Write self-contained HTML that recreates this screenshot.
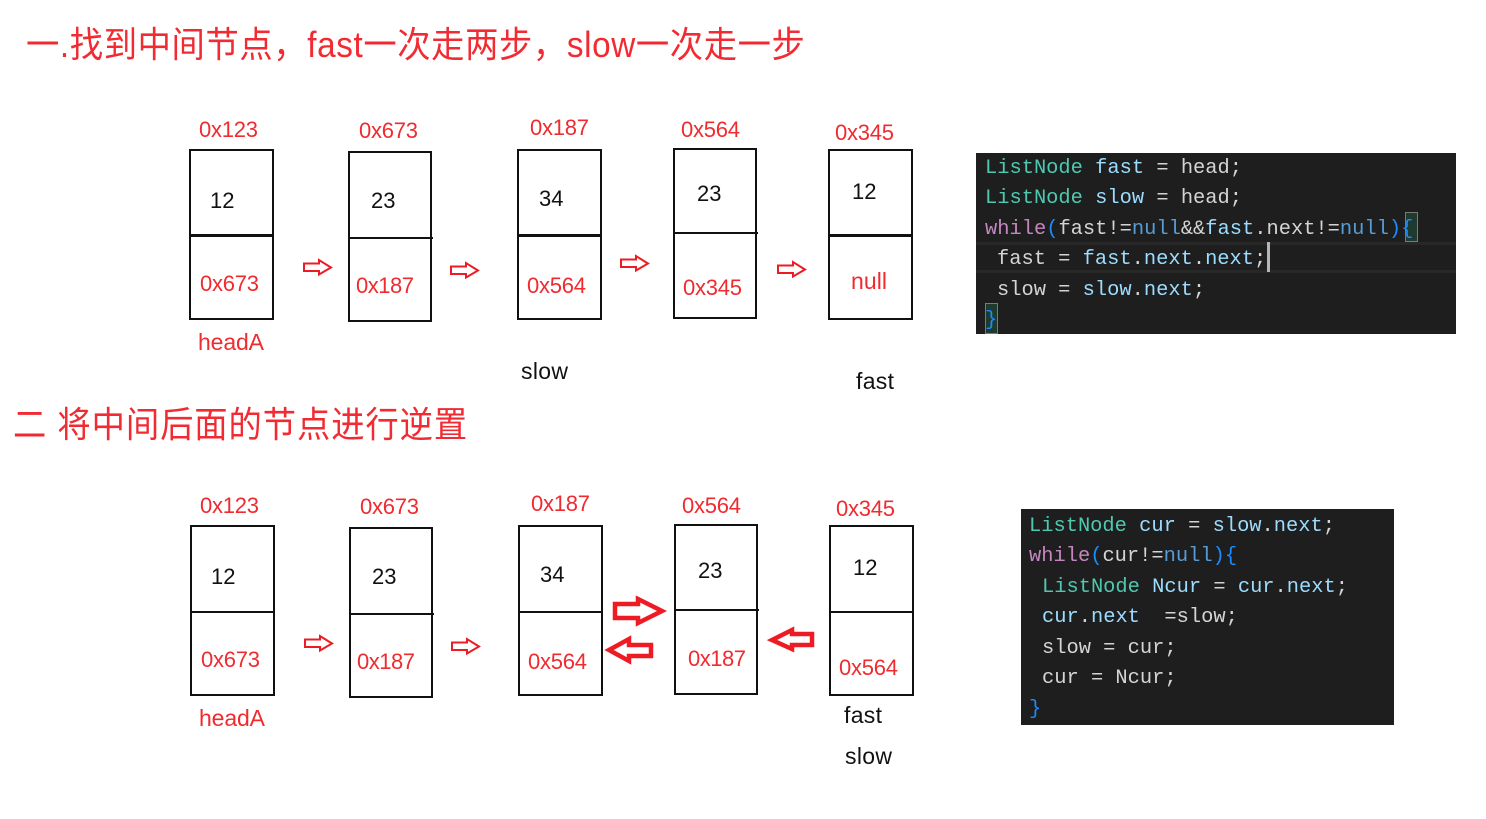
<!DOCTYPE html>
<html>
<head>
<meta charset="utf-8">
<style>
html,body{margin:0;padding:0;background:#fff;width:1486px;height:819px;overflow:hidden}
svg{display:block}
text{font-family:"Liberation Sans","Noto Sans CJK SC",sans-serif;font-size:22px}
.r{fill:#f02b30}
.k{fill:#111}
.w23{font-size:23px}
.t{font-size:36px;fill:#f22b33}
.c text,text.c{font-family:"Liberation Mono",monospace;font-size:20.4px;fill:#d4d4d4;white-space:pre;stroke:currentColor;stroke-width:0}
.g{fill:#4ec9b0}.v{fill:#9cdcfe}.w{fill:#c586c0}.n{fill:#569cd6}.b{fill:#1a8cff}
.box{fill:none;stroke:#111;stroke-width:2}
.div{stroke:#111;stroke-width:2}
.sa{fill:#fff;stroke:#ed1c24;stroke-width:2}
.ba{fill:#fff;stroke:#ed1c24;stroke-width:4.500}
</style>
</head>
<body>
<svg width="1486" height="819" viewBox="0 0 1486 819" xmlns="http://www.w3.org/2000/svg">
<rect width="1486" height="819" fill="#fff"/>

<text class="t" transform="translate(26,57) scale(.925,1)" x="0" y="0" textLength="842">一.找到中间节点，fast一次走两步，slow一次走一步</text>
<text class="t" transform="translate(13,437) scale(.925,1)" x="0" y="0" textLength="491">二 将中间后面的节点进行逆置</text>

<!-- Row 1 boxes -->
<rect class="box" x="190" y="150" width="83" height="169"/><line class="div" style="stroke-width:3" x1="190" y1="235.500" x2="274" y2="235.500"/>
<rect class="box" x="349" y="152" width="82" height="169"/><line class="div" x1="349" y1="238" x2="433" y2="238"/>
<rect class="box" x="518" y="150" width="83" height="169"/><line class="div" style="stroke-width:3" x1="518" y1="235.500" x2="602" y2="235.500"/>
<rect class="box" x="674" y="149" width="82" height="169"/><line class="div" x1="674" y1="233" x2="758" y2="233"/>
<rect class="box" x="829" y="150" width="83" height="169"/><line class="div" style="stroke-width:3" x1="829" y1="235.500" x2="913" y2="235.500"/>

<!-- Row 1 text -->
<text class="r" x="199" y="137" textLength="59">0x123</text>
<text class="r" x="359" y="138" textLength="59">0x673</text>
<text class="r" x="530" y="135" textLength="59">0x187</text>
<text class="r" x="681" y="137" textLength="59">0x564</text>
<text class="r" x="835" y="140" textLength="59">0x345</text>
<text class="k" x="210" y="208">12</text>
<text class="k" x="371" y="208">23</text>
<text class="k" x="539" y="206">34</text>
<text class="k" x="697" y="201">23</text>
<text class="k" x="852" y="199">12</text>
<text class="r" x="200" y="291" textLength="59">0x673</text>
<text class="r" x="356" y="293" textLength="58">0x187</text>
<text class="r" x="527" y="293" textLength="59">0x564</text>
<text class="r" x="683" y="295" textLength="59">0x345</text>
<text class="r w23" x="851" y="289" textLength="36">null</text>
<text class="r w23" x="198" y="350" textLength="66">headA</text>
<text class="k w23" x="521" y="379" textLength="47">slow</text>
<text class="k w23" x="856" y="389" textLength="38">fast</text>

<!-- Row 1 arrows -->
<polygon class="sa" points="304,263.500 319,263.500 319,260 331,267.500 319,274.500 319,271 304,271"/>
<polygon class="sa" points="451,266.500 466,266.500 466,263 478,270.500 466,277.500 466,274 451,274"/>
<polygon class="sa" points="621,259.500 636,259.500 636,256 648,263.500 636,270.500 636,267 621,267"/>
<polygon class="sa" points="778,265.500 793,265.500 793,262 805,269.500 793,276.500 793,273 778,273"/>

<!-- Row 2 boxes -->
<rect class="box" x="191" y="526" width="83" height="169"/><line class="div" x1="191" y1="612" x2="275" y2="612"/>
<rect class="box" x="350" y="528" width="82" height="169"/><line class="div" x1="350" y1="614" x2="434" y2="614"/>
<rect class="box" x="519" y="526" width="83" height="169"/><line class="div" x1="519" y1="612" x2="603" y2="612"/>
<rect class="box" x="675" y="525" width="82" height="169"/><line class="div" x1="675" y1="610" x2="759" y2="610"/>
<rect class="box" x="830" y="526" width="83" height="169"/><line class="div" x1="830" y1="612" x2="914" y2="612"/>

<!-- Row 2 text -->
<text class="r" x="200" y="513" textLength="59">0x123</text>
<text class="r" x="360" y="514" textLength="59">0x673</text>
<text class="r" x="531" y="511" textLength="59">0x187</text>
<text class="r" x="682" y="513" textLength="59">0x564</text>
<text class="r" x="836" y="516" textLength="59">0x345</text>
<text class="k" x="211" y="584">12</text>
<text class="k" x="372" y="584">23</text>
<text class="k" x="540" y="582">34</text>
<text class="k" x="698" y="578">23</text>
<text class="k" x="853" y="575">12</text>
<text class="r" x="201" y="667" textLength="59">0x673</text>
<text class="r" x="357" y="669" textLength="58">0x187</text>
<text class="r" x="528" y="669" textLength="59">0x564</text>
<text class="r" x="688" y="666" textLength="58">0x187</text>
<text class="r" x="839" y="675" textLength="59">0x564</text>
<text class="r w23" x="199" y="726" textLength="66">headA</text>
<text class="k w23" x="844" y="723" textLength="38">fast</text>
<text class="k w23" x="845" y="764" textLength="47">slow</text>

<!-- Row 2 arrows -->
<polygon class="sa" points="305,639.500 320,639.500 320,636 332,643.500 320,650.500 320,647 305,647"/>
<polygon class="sa" points="452,642.500 467,642.500 467,639 479,646.500 467,653.500 467,650 452,650"/>
<polygon class="ba" points="615,604 638,604 638,599 662,611 638,623 638,618 615,618"/>
<polygon class="ba" points="651,645 629,645 629,639 609,650 629,661 629,656 651,656"/>
<polygon class="ba" points="812,634 792,634 792,630 772,640 792,649 792,645 812,645"/>

<!-- Code block 1 -->
<rect x="976" y="153" width="480" height="181" fill="#1e1e1e"/>
<rect x="976" y="242" width="480" height="3" fill="#282828"/>
<rect x="976" y="270" width="480" height="3" fill="#282828"/>
<rect x="1405.500" y="212.500" width="12" height="29" fill="#1f3a2e" stroke="#7a7a7a"/>
<rect x="985.500" y="303.500" width="12" height="30" fill="#1f3a2e" stroke="#7a7a7a"/>
<rect x="1267" y="242" width="3" height="30" fill="#b5b5b5"/>
<g class="c">
<text class="c" x="985" y="173" xml:space="preserve"><tspan class="g">ListNode</tspan> <tspan class="v">fast</tspan> = head;</text>
<text class="c" x="985" y="203" xml:space="preserve"><tspan class="g">ListNode</tspan> <tspan class="v">slow</tspan> = head;</text>
<text class="c" x="985" y="234" xml:space="preserve"><tspan class="w">while</tspan><tspan class="b">(</tspan>fast!=<tspan class="n">null</tspan>&amp;&amp;<tspan class="v">fast</tspan>.next!=<tspan class="n">null</tspan><tspan class="b">){</tspan></text>
<text class="c" x="997" y="264" xml:space="preserve">fast = <tspan class="v">fast</tspan>.<tspan class="v">next</tspan>.<tspan class="v">next</tspan>;</text>
<text class="c" x="997" y="295" xml:space="preserve">slow = <tspan class="v">slow</tspan>.<tspan class="v">next</tspan>;</text>
<text class="c" x="985" y="325"><tspan class="b">}</tspan></text>
</g>

<!-- Code block 2 -->
<rect x="1021" y="509" width="373" height="216" fill="#1e1e1e"/>
<g class="c">
<text class="c" x="1029" y="531" xml:space="preserve"><tspan class="g">ListNode</tspan> <tspan class="v">cur</tspan> = <tspan class="v">slow</tspan>.<tspan class="v">next</tspan>;</text>
<text class="c" x="1029" y="561" xml:space="preserve"><tspan class="w">while</tspan><tspan class="b">(</tspan>cur!=<tspan class="n">null</tspan><tspan class="b">){</tspan></text>
<text class="c" x="1042" y="592" xml:space="preserve"><tspan class="g">ListNode</tspan> <tspan class="v">Ncur</tspan> = <tspan class="v">cur</tspan>.<tspan class="v">next</tspan>;</text>
<text class="c" x="1042" y="622" xml:space="preserve"><tspan class="v">cur</tspan>.<tspan class="v">next</tspan>  =slow;</text>
<text class="c" x="1042" y="653" xml:space="preserve">slow = cur;</text>
<text class="c" x="1042" y="683" xml:space="preserve">cur = Ncur;</text>
<text class="c" x="1029" y="714"><tspan class="b">}</tspan></text>
</g>
</svg>
</body>
</html>
